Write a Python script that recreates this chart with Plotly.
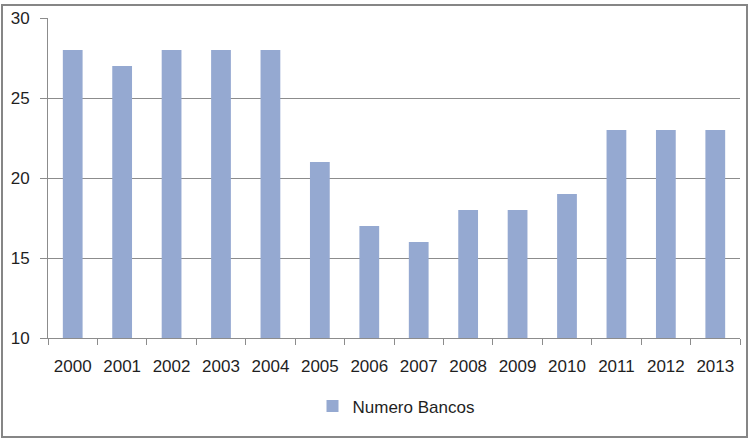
import plotly.graph_objects as go

years = ["2000", "2001", "2002", "2003", "2004", "2005", "2006", "2007",
         "2008", "2009", "2010", "2011", "2012", "2013"]
bancos = [28, 27, 28, 28, 28, 21, 17, 16, 18, 18, 19, 23, 23, 23]

W, H = 749, 441
L, R, T, B = 48, 9, 15, 103
pw, ph = W - L - R, H - T - B

def px2paper_x(px):
    return (px - L) / pw

def py2paper_y(py):
    return (H - B - py) / ph

fig = go.Figure()
fig.add_trace(go.Bar(
    x=years, y=bancos, name="Numero Bancos",
    marker=dict(color="#95A9D1", line=dict(width=0)),
    showlegend=True,
))

font = dict(family="Liberation Sans, Arial, sans-serif", size=17, color="#1f1f1f")

fig.update_layout(
    width=W, height=H,
    margin=dict(l=L, r=R, t=T, b=B, pad=0),
    paper_bgcolor="white", plot_bgcolor="white",
    font=font,
    bargap=0.6,
    showlegend=True,
    legend=dict(orientation="h", x=px2paper_x(396), xanchor="center",
                y=py2paper_y(407), yanchor="middle",
                font=font, bgcolor="rgba(0,0,0,0)", itemwidth=30),
    xaxis=dict(type="category", showgrid=False, showline=True,
               linecolor="#8c8c8c", linewidth=1,
               ticks="outside", tickson="boundaries", ticklen=6,
               tickcolor="#8c8c8c", ticklabelstandoff=13,
               tickfont=font),
    yaxis=dict(range=[10, 30], dtick=5, showgrid=True, gridcolor="#8c8c8c",
               gridwidth=1, showline=True, linecolor="#8c8c8c", linewidth=1,
               ticks="outside", ticklen=7, tickcolor="#8c8c8c",
               ticklabelstandoff=7, zeroline=False, tickfont=font),
    shapes=[dict(type="rect", xref="paper", yref="paper",
                 x0=px2paper_x(2), x1=px2paper_x(747),
                 y0=py2paper_y(438), y1=py2paper_y(2),
                 line=dict(color="#868686", width=2), layer="above")],
)

fig.write_html("out.html")
